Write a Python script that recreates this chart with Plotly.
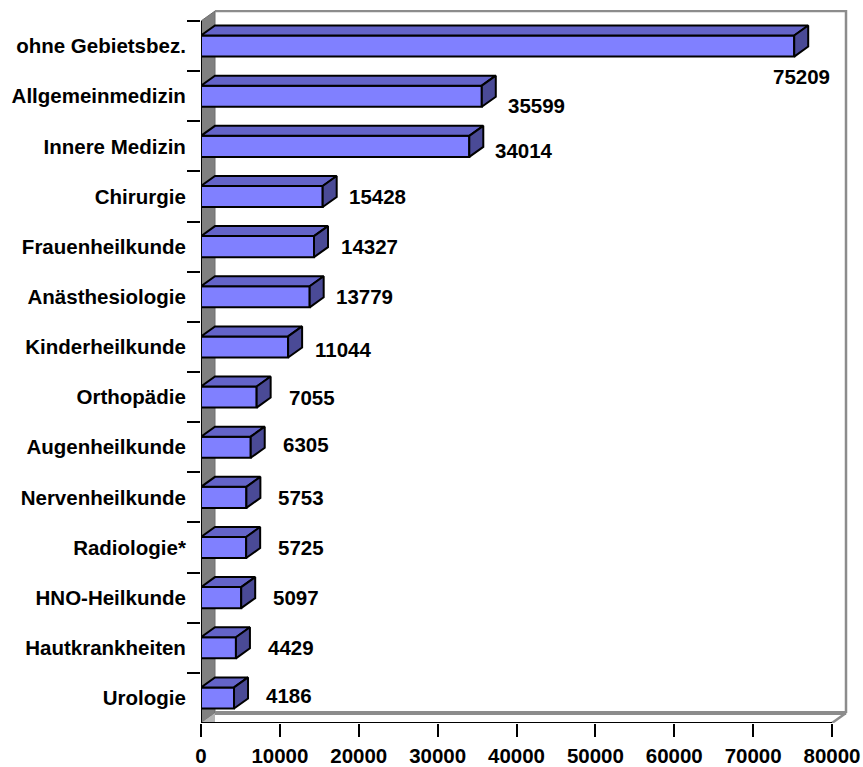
import plotly.graph_objects as go

# Ärzte nach Gebietsbezeichnung
categories = [
    "ohne Gebietsbez.", "Allgemeinmedizin", "Innere Medizin", "Chirurgie",
    "Frauenheilkunde", "Anästhesiologie", "Kinderheilkunde", "Orthopädie",
    "Augenheilkunde", "Nervenheilkunde", "Radiologie*", "HNO-Heilkunde",
    "Hautkrankheiten", "Urologie",
]
values = [75209, 35599, 34014, 15428, 14327, 13779, 11044, 7055,
          6305, 5753, 5725, 5097, 4429, 4186]
x_ticks = [0, 10000, 20000, 30000, 40000, 50000, 60000, 70000, 80000]

# geometry of the pseudo-3D frame (in axis units)
X_MAX = 80000
PX_PER_UNIT = 631 / X_MAX          # horizontal pixels per value unit
PX_PER_CAT = 50.14                 # vertical pixels per category
DX = 14 / PX_PER_UNIT              # depth offset to the right
DY = 10 / PX_PER_CAT               # depth offset upwards
HALF = 0.21                        # half bar thickness
N = len(categories)
Y_BOTTOM = N - 0.5
Y_TOP = -0.5
LABEL_GAP = 55 / PX_PER_UNIT

FRONT = "#8080FF"
TOP = "#6464C8"
SIDE = "#4A4A96"
FONT = dict(family="Liberation Sans, Arial, sans-serif", size=20.5,
            color="black", weight="bold")

pos = list(range(N))


def faces(kind):
    xs, ys = [], []
    for v, p in zip(values, pos):
        if kind == "front":
            px = [0, v, v, 0, 0]
            py = [p - HALF, p - HALF, p + HALF, p + HALF, p - HALF]
        elif kind == "top":
            px = [0, v, v + DX, DX, 0]
            py = [p - HALF, p - HALF, p - HALF - DY, p - HALF - DY, p - HALF]
        else:
            px = [v, v + DX, v + DX, v, v]
            py = [p - HALF, p - HALF - DY, p + HALF - DY, p + HALF, p - HALF]
        xs += px + [None]
        ys += py + [None]
    return xs, ys


fig = go.Figure()
for kind, color in (("front", FRONT), ("top", TOP), ("side", SIDE)):
    fx, fy = faces(kind)
    fig.add_trace(go.Scatter(
        x=fx, y=fy, mode="lines", fill="toself", fillcolor=color,
        line=dict(color="black", width=2), hoverinfo="skip",
        showlegend=False,
    ))

shapes = [
    # left side wall
    dict(type="path", xref="x", yref="y", layer="below",
         path=f"M 0 {Y_BOTTOM} L 0 {Y_TOP} L {DX} {Y_TOP - DY} "
              f"L {DX} {Y_BOTTOM - DY} Z",
         fillcolor="#808080", line=dict(color="#6E6E6E", width=1)),
    # floor corner at the left
    dict(type="path", xref="x", yref="y", layer="below",
         path=f"M 0 {Y_BOTTOM} L {DX} {Y_BOTTOM - DY} L {DX} {Y_BOTTOM} Z",
         fillcolor="#B4B4B4", line=dict(width=0)),
    # back wall top and right edges
    dict(type="path", xref="x", yref="y", layer="below",
         path=f"M {DX} {Y_TOP - DY} L {X_MAX + DX} {Y_TOP - DY} "
              f"L {X_MAX + DX} {Y_BOTTOM - DY}",
         line=dict(color="#8C8C8C", width=2.5)),
    # floor back edge
    dict(type="line", xref="x", yref="y", layer="below",
         x0=DX, y0=Y_BOTTOM - DY, x1=X_MAX + DX, y1=Y_BOTTOM - DY,
         line=dict(color="#8C8C8C", width=4)),
    # floor right edge
    dict(type="line", xref="x", yref="y", layer="below",
         x0=X_MAX, y0=Y_BOTTOM, x1=X_MAX + DX, y1=Y_BOTTOM - DY,
         line=dict(color="#8C8C8C", width=2.5)),
    # front axis lines
    dict(type="line", xref="x", yref="y", layer="above",
         x0=0, y0=Y_BOTTOM, x1=X_MAX, y1=Y_BOTTOM,
         line=dict(color="black", width=2)),
    dict(type="line", xref="x", yref="y", layer="above",
         x0=0, y0=Y_BOTTOM, x1=0, y1=Y_TOP,
         line=dict(color="black", width=2)),
]

# value labels; the longest bar gets its label tucked below the bar end
label_dy = [0.6, 0.18, 0.08, 0, 0, 0, 0.05, 0, -0.05, 0, 0, 0, 0, -0.05]
annotations = []
for v, p, d in zip(values, pos, label_dy):
    if v + LABEL_GAP + 30 / PX_PER_UNIT > X_MAX:
        annotations.append(dict(x=X_MAX, y=p + d, xref="x", yref="y",
                                text=f"{v}", showarrow=False,
                                xanchor="right", yanchor="middle", font=FONT))
    else:
        annotations.append(dict(x=v + LABEL_GAP, y=p + d, xref="x", yref="y",
                                text=f"{v}", showarrow=False,
                                xanchor="center", yanchor="middle", font=FONT))

plot_w = 863 - 201 - 15
x_right = plot_w / PX_PER_UNIT
y_top = (10 - 21) / PX_PER_CAT - 0.5

fig.update_layout(
    width=863, height=767,
    margin=dict(l=201, r=15, t=10, b=44, pad=0, autoexpand=False),
    paper_bgcolor="white", plot_bgcolor="white",
    shapes=shapes, annotations=annotations,
    xaxis=dict(
        range=[0, x_right], tickmode="array", tickvals=x_ticks,
        ticktext=[str(t) for t in x_ticks],
        ticks="outside", ticklen=13, tickwidth=2, tickcolor="black",
        ticklabelstandoff=1, automargin=False,
        showgrid=False, zeroline=False, showline=False,
        tickfont=FONT, fixedrange=True,
    ),
    yaxis=dict(
        range=[Y_BOTTOM, y_top], tickmode="array", tickvals=pos,
        ticktext=categories, automargin=False,
        ticks="outside", ticklen=10, tickcolor="rgba(0,0,0,0)",
        minor=dict(tickmode="array",
                   tickvals=[i - 0.5 for i in range(N)],
                   ticks="outside", ticklen=13, tickwidth=2,
                   tickcolor="black"),
        showgrid=False, zeroline=False, showline=False,
        tickfont=FONT, fixedrange=True,
    ),
)

fig.write_html("out.html")
